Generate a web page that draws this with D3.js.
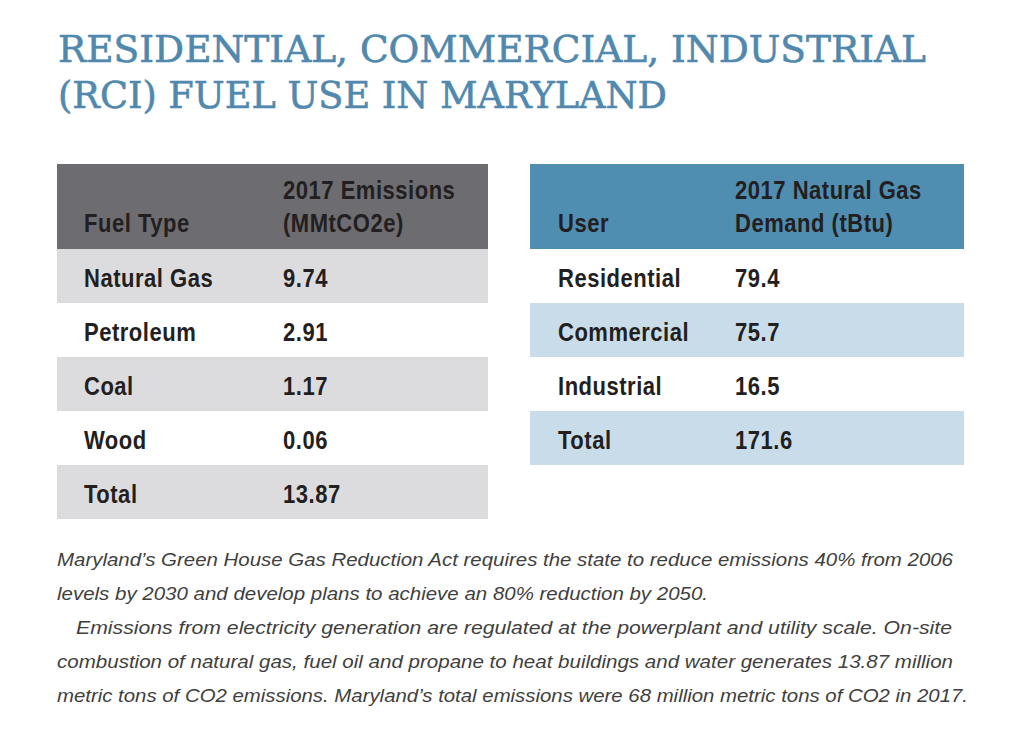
<!DOCTYPE html>
<html>
<head>
<meta charset="utf-8">
<script src="https://cdn.jsdelivr.net/npm/d3@7"></script>
<style>
  body { margin: 0; background: #fff; }
  svg { display: block; }
</style>
</head>
<body>
<div id="chart"></div>
<script>
// title lines
var titleLines = ["RESIDENTIAL, COMMERCIAL, INDUSTRIAL", "(RCI) FUEL USE IN MARYLAND"];

// left table: emissions by fuel type
var fuelHeader = ["Fuel Type", ["2017 Emissions", "(MMtCO2e)"]];
var fuelTypes = ["Natural Gas", "Petroleum", "Coal", "Wood", "Total"];
var fuelEmissions = ["9.74", "2.91", "1.17", "0.06", "13.87"];

// right table: natural gas demand by user
var gasHeader = ["User", ["2017 Natural Gas", "Demand (tBtu)"]];
var gasUsers = ["Residential", "Commercial", "Industrial", "Total"];
var gasDemand = ["79.4", "75.7", "16.5", "171.6"];

// note text, one entry per printed line
var noteLines = [
    "Maryland\u2019s Green House Gas Reduction Act requires the state to reduce emissions 40% from 2006",
    "levels by 2030 and develop plans to achieve an 80% reduction by 2050.",
    "Emissions from electricity generation are regulated at the powerplant and utility scale. On-site",
    "combustion of natural gas, fuel oil and propane to heat buildings and water generates 13.87 million",
    "metric tons of CO2 emissions. Maryland\u2019s total emissions were 68 million metric tons of CO2 in 2017."
];

var width = 1024, height = 750;
var svg = d3.select('#chart').append('svg')
    .attr('width', width)
    .attr('height', height);

// title
var titleWidths = [868, 609];
svg.append('g').selectAll('text')
    .data(titleLines)
    .enter().append('text')
    .attr('x', 58)
    .attr('y', (d, i) => 62 + i * 46)
    .attr('textLength', (d, i) => titleWidths[i])
    .attr('lengthAdjust', 'spacingAndGlyphs')
    .style('font-family', '"DejaVu Serif", serif')
    .style('font-size', '37px')
    .style('fill', '#5089ad')
    .style('stroke', '#5089ad')
    .style('stroke-width', '0.6px')
    .text(d => d);

// table text is squeezed horizontally to look like a condensed face
var squeeze = 0.88;

function drawTable(opts) {
    var g = svg.append('g').attr('transform', 'translate(' + opts.x + ',164)');
    var headH = 85, rowH = 54;

    var y = d3.scaleBand()
        .domain(opts.labels)
        .range([headH, headH + rowH * opts.labels.length]);

    var x = d3.scaleOrdinal()
        .domain(['label', 'value'])
        .range([opts.labelX / squeeze, opts.valueX / squeeze]);

    // header
    g.append('rect')
        .attr('width', opts.w)
        .attr('height', headH)
        .attr('fill', opts.headFill);

    var hg = g.append('g').attr('transform', 'scale(' + squeeze + ',1)');
    hg.append('text')
        .attr('x', x('label'))
        .attr('y', 68)
        .attr('class', 'cell')
        .text(opts.header[0]);

    hg.append('text')
        .attr('class', 'cell')
        .selectAll('tspan')
        .data(opts.header[1])
        .enter().append('tspan')
        .attr('x', x('value'))
        .attr('y', (d, i) => 35 + i * 33)
        .text(d => d);

    // body rows
    var rows = g.selectAll('g.row')
        .data(opts.labels)
        .enter().append('g')
        .attr('class', 'row')
        .attr('transform', d => 'translate(0,' + y(d) + ')');

    rows.append('rect')
        .attr('width', opts.w)
        .attr('height', y.bandwidth())
        .attr('fill', (d, i) => i % 2 === opts.shadeOdd ? opts.rowFill : '#fff');

    var tg = rows.append('g').attr('transform', 'scale(' + squeeze + ',1)');
    tg.append('text')
        .attr('class', 'cell')
        .attr('x', x('label'))
        .attr('y', 38)
        .text(d => d);

    tg.append('text')
        .attr('class', 'cell')
        .attr('x', x('value'))
        .attr('y', 38)
        .text((d, i) => opts.values[i]);

    g.selectAll('text.cell')
        .style('font-family', '"Liberation Sans", Arial, sans-serif')
        .style('font-weight', 'bold')
        .style('font-size', '25px')
        .style('letter-spacing', '0.6px')
        .style('fill', '#231f20');
}

drawTable({
    x: 57, w: 431,
    header: fuelHeader, labels: fuelTypes, values: fuelEmissions,
    headFill: '#6d6c70', rowFill: '#dcdcdf', shadeOdd: 0,
    labelX: 27, valueX: 226
});

drawTable({
    x: 530, w: 434,
    header: gasHeader, labels: gasUsers, values: gasDemand,
    headFill: '#4f8db1', rowFill: '#c9dce9', shadeOdd: 1,
    labelX: 28, valueX: 205
});

// note paragraph
var noteX = [57, 57, 76, 57, 57];
var noteW = [896, 651, 876, 896, 911];
svg.append('g').selectAll('text')
    .data(noteLines)
    .enter().append('text')
    .attr('x', (d, i) => noteX[i])
    .attr('y', (d, i) => 566 + i * 34)
    .attr('textLength', (d, i) => noteW[i])
    .attr('lengthAdjust', 'spacingAndGlyphs')
    .style('font-family', '"Liberation Sans", Arial, sans-serif')
    .style('font-style', 'italic')
    .style('font-size', '19px')
    .style('fill', '#3f3f3f')
    .text(d => d);
</script>
</body>
</html>
